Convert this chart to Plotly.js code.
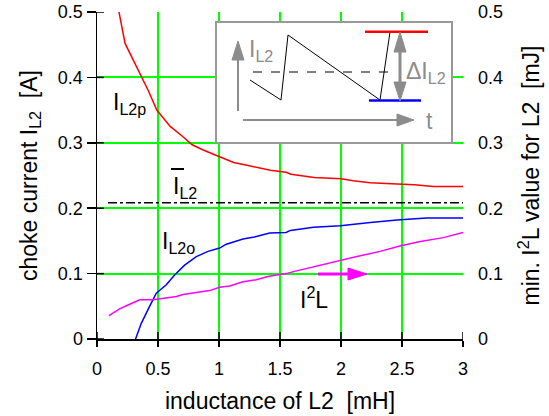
<!DOCTYPE html>
<html>
<head>
<meta charset="utf-8">
<script src="https://cdn.plot.ly/plotly-3.0.1.min.js"></script>
<style>html,body{margin:0;padding:0;background:#fff;}#chart{width:549px;height:416px;}</style>
</head>
<body>
<div id="chart"></div>
<script>
// ---- data ----
const redX = [0.15,0.18,0.23,0.29,0.34,0.42,0.49,0.6,0.7,0.78,0.87,1.0,1.12,1.22,1.3,1.42,1.55,1.59,1.78,2.0,2.1,2.24,2.46,2.6,2.76,3.0];
const redY = [0.54,0.50,0.452,0.43,0.411,0.38,0.350,0.325,0.31,0.297,0.289,0.279,0.270,0.266,0.263,0.258,0.255,0.252,0.247,0.245,0.242,0.239,0.237,0.236,0.233,0.233];

const blueX = [0.316,0.363,0.431,0.486,0.568,0.636,0.718,0.814,0.91,1.005,1.06,1.197,1.29,1.415,1.55,1.585,1.775,1.995,2.24,2.46,2.7,3.0];
const blueY = [0.0,0.024,0.050,0.070,0.083,0.098,0.113,0.126,0.134,0.139,0.145,0.153,0.156,0.162,0.163,0.166,0.171,0.173,0.178,0.182,0.185,0.185];

const magX = [0.098,0.185,0.254,0.295,0.35,0.46,0.541,0.65,0.705,0.814,0.923,1.005,1.087,1.197,1.306,1.4,1.55,1.61,1.83,1.99,2.13,2.32,2.49,2.65,2.84,3.0];
const magY = [0.0356,0.046,0.052,0.055,0.060,0.060,0.0626,0.065,0.068,0.071,0.074,0.079,0.081,0.0875,0.0905,0.0956,0.100,0.103,0.113,0.120,0.126,0.134,0.1425,0.149,0.155,0.163];

const meanX = [0.09, 3.0];
const meanY = [0.2085, 0.2085];

const xTicks = [0,0.5,1,1.5,2,2.5,3];
const yTicks = [0,0.1,0.2,0.3,0.4,0.5];
const yTickText = ['0','0.1','0.2','0.3','0.4','0.5'];

// ---- layout geometry ----
const L = 97, T = 12, W = 366, H = 327;
const px = x => (x - L) / W;
const py = y => (T + H - y) / H;
const FONT = 'Liberation Sans, Arial, sans-serif';
const GRAY = '#8c8c8c';
const GRID = '#00ff00';

function tri(a, b, c) {
  return 'M' + px(a[0]) + ',' + py(a[1]) + ' L' + px(b[0]) + ',' + py(b[1]) + ' L' + px(c[0]) + ',' + py(c[1]) + ' Z';
}
function poly(pts) {
  return pts.map((p, i) => (i ? 'L' : 'M') + px(p[0]) + ',' + py(p[1])).join(' ');
}
function seg(x0, y0, x1, y1, color, width, dash) {
  return {type:'line', xref:'paper', yref:'paper', x0:px(x0), y0:py(y0), x1:px(x1), y1:py(y1),
          line:{color:color, width:width, dash:dash || 'solid'}, layer:'above'};
}

const traces = [
  {x: redX, y: redY, mode:'lines', line:{color:'#ff0000', width:1.5}, hoverinfo:'skip'},
  {x: blueX, y: blueY, mode:'lines', line:{color:'#0000ff', width:1.5}, hoverinfo:'skip'},
  {x: meanX, y: meanY, mode:'lines', line:{color:'#000000', width:1.5, dash:'dashdot'}, hoverinfo:'skip'},
  {x: magX, y: magY, yaxis:'y2', mode:'lines', line:{color:'#ff00ff', width:1.5}, hoverinfo:'skip'}
];

// inward halves of the crossing tick marks, placed at the tick values
const tickShapes = [];
xTicks.forEach(v => tickShapes.push({type:'line', xref:'x', yref:'paper', x0:v, x1:v, y0:0, y1:7 / H,
  line:{color:'#000000', width:1.5}, layer:'above'}));
yTicks.forEach(v => tickShapes.push({type:'line', xref:'paper', yref:'y', x0:0, x1:7 / W, y0:v, y1:v,
  line:{color:'#000000', width:1.5}, layer:'above'}));

const shapes = tickShapes.concat([
  // inset frame
  {type:'rect', xref:'paper', yref:'paper', x0:px(216), x1:px(452), y0:py(143), y1:py(22),
   line:{color:'#999999', width:2}, fillcolor:'#ffffff', layer:'above'},
  // vertical axis arrow of inset
  seg(238, 111, 238, 58, GRAY, 2),
  {type:'path', xref:'paper', yref:'paper', path: tri([232,60],[244,60],[238,41]), fillcolor:GRAY, line:{color:GRAY, width:1}, layer:'above'},
  // time axis arrow of inset
  seg(243, 120, 400, 120, GRAY, 2),
  {type:'path', xref:'paper', yref:'paper', path: tri([397,114],[397,126],[414,120]), fillcolor:GRAY, line:{color:GRAY, width:1}, layer:'above'},
  // dashed mean line
  seg(253, 72, 397, 72, '#000000', 1, 'dash'),
  // sawtooth
  {type:'path', xref:'paper', yref:'paper', path: poly([[250,80],[281,100],[288,35],[380,100],[390,32]]), line:{color:'#000000', width:1}, layer:'above'},
  // peak and valley bars
  seg(365, 31.7, 428, 31.7, '#ff0000', 2.5),
  seg(369, 100.5, 421, 100.5, '#0000ff', 2.5),
  // double arrow
  seg(400, 48, 400, 86, GRAY, 3),
  {type:'path', xref:'paper', yref:'paper', path: tri([394,52],[406,52],[400,32]), fillcolor:GRAY, line:{color:GRAY, width:1}, layer:'above'},
  {type:'path', xref:'paper', yref:'paper', path: tri([394,82],[406,82],[400,101]), fillcolor:GRAY, line:{color:GRAY, width:1}, layer:'above'},
  // magenta arrow towards right axis
  seg(318, 274, 350, 274, '#ff00ff', 3),
  {type:'path', xref:'paper', yref:'paper', path: tri([348,268],[348,280],[367,274]), fillcolor:'#ff00ff', line:{color:'#ff00ff', width:1}, layer:'above'},
  // overline of mean current symbol
  seg(171, 169, 184, 169, '#000000', 2)
]);

function ann(text, x, y, color, size) {
  return {text:text, xref:'paper', yref:'paper', x:px(x), y:py(y), xanchor:'left', yanchor:'middle',
          showarrow:false, font:{family:FONT, size:size || 23, color:color || '#000000'}};
}

const annotations = [
  ann('I<sub>L2p</sub>', 111, 103),
  ann('I<sub>L2</sub>', 171, 187),
  ann('I<sub>L2o</sub>', 160, 242),
  ann('I<sup>2</sup>L', 298, 298),
  ann('I<sub>L2</sub>', 247, 51, GRAY),
  ann('ΔI<sub>L2</sub>', 404, 72, GRAY),
  ann('t', 424, 121, GRAY)
];

const layout = {
  width: 549, height: 416,
  margin: {l:L, r:549 - L - W, t:T, b:416 - T - H, pad:0},
  paper_bgcolor:'#ffffff', plot_bgcolor:'#ffffff',
  showlegend:false,
  font:{family:FONT, size:18, color:'#000000'},
  xaxis: {
    range:[0,3], tickvals:xTicks, showgrid:true, gridcolor:GRID, gridwidth:2,
    zeroline:false, showline:true, linecolor:'#000000', linewidth:1.5,
    ticks:'outside', ticklen:6, tickwidth:1.5, tickcolor:'#000000',
    tickfont:{family:FONT, size:18}, ticklabelstandoff:7,
    title:{text:'inductance of L2  [mH]', font:{family:FONT, size:23}, standoff:15}
  },
  yaxis: {
    range:[0,0.5], tickvals:yTicks, ticktext:yTickText, showgrid:true, gridcolor:GRID, gridwidth:2,
    zeroline:false, showline:true, linecolor:'#000000', linewidth:1.5,
    ticks:'outside', ticklen:9, tickwidth:1.5, tickcolor:'#000000',
    tickfont:{family:FONT, size:18},
    title:{text:'choke current I<sub>L2</sub>  [A]', font:{family:FONT, size:23}, standoff:14}
  },
  yaxis2: {
    range:[0,0.5], tickvals:yTicks, ticktext:yTickText, overlaying:'y', side:'right', anchor:'x',
    showgrid:false, zeroline:false, showline:false, ticks:'',
    tickfont:{family:FONT, size:18}, ticklabelstandoff:14,
    title:{text:'min. I<sup>2</sup>L value for L2  [mJ]', font:{family:FONT, size:23}, standoff:20}
  },
  shapes: shapes,
  annotations: annotations
};

Plotly.newPlot('chart', traces, layout, {staticPlot:true, displayModeBar:false});
</script>
</body>
</html>
